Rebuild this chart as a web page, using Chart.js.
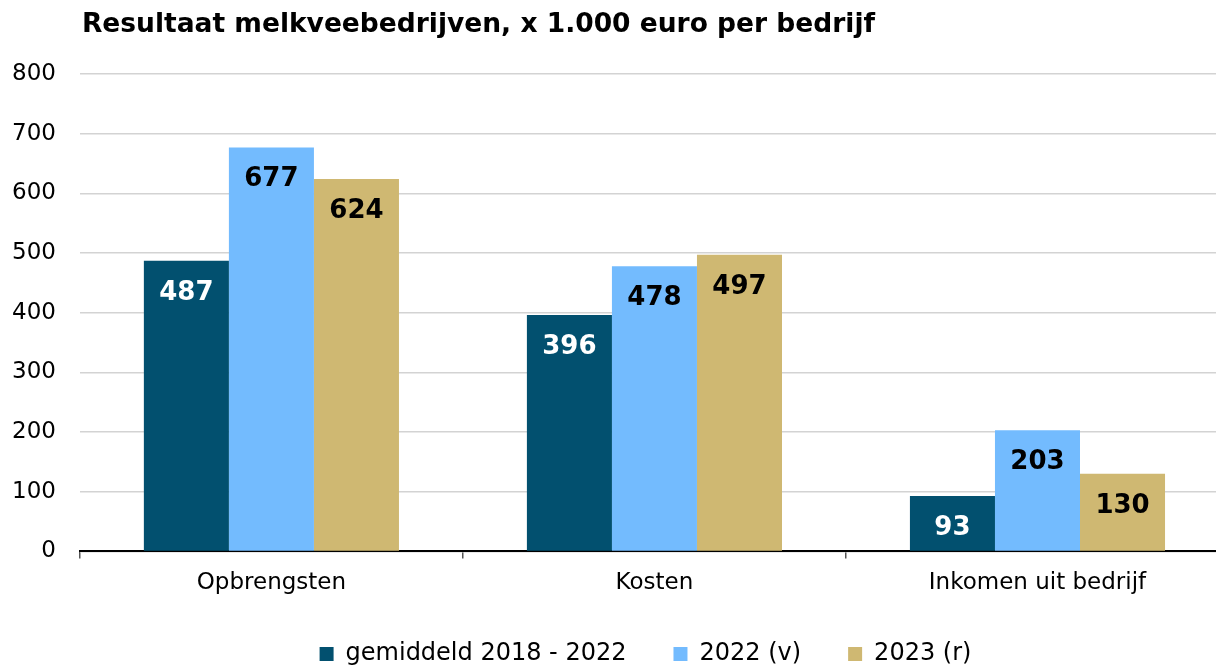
<!DOCTYPE html>
<html>
<head>
<meta charset="utf-8">
<script src="https://cdn.jsdelivr.net/npm/chart.js@4"></script>
<style>
  html, body { margin: 0; padding: 0; background: #fff; overflow: hidden; }
  #wrap { width: 1229px; height: 689px; }
</style>
</head>
<body>
<div id="wrap"><canvas id="chart"></canvas></div>
<script>
// ---- data ----
const categories = ['Opbrengsten', 'Kosten', 'Inkomen uit bedrijf'];
const seriesNames = ['gemiddeld 2018 - 2022', '2022 (v)', '2023 (r)'];
const avg2018_2022 = [487, 396, 93];
const v2022 = [677, 478, 203];
const r2023 = [624, 497, 130];
const yTicks = [0, 100, 200, 300, 400, 500, 600, 700, 800];
const chartTitle = 'Resultaat melkveebedrijven, x 1.000 euro per bedrijf';

const COLORS = ['#02506f', '#73bbfe', '#cfb872'];
const LABEL_COLORS = ['#ffffff', '#000000', '#000000'];
const FONT = "'DejaVu Sans', Verdana, sans-serif";

// title drawn at the left edge of the plot
const titlePlugin = {
    id: 'leftTitle',
    afterDraw(chart) {
        const ctx = chart.ctx;
        ctx.save();
        ctx.font = `bold 26.5px ${FONT}`;
        ctx.fillStyle = '#000';
        ctx.textAlign = 'left';
        ctx.textBaseline = 'alphabetic';
        ctx.fillText(chartTitle, chart.chartArea.left + 2, 32);
        ctx.restore();
    }
};

// nudge the legend a bit (it sits closer to the axis and more to the right)
const legendShift = {
    id: 'legendShift',
    afterLayout(chart) {
        const lg = chart.legend;
        lg.left += 37; lg.right += 37;
        lg.top -= 13; lg.bottom -= 13;
    }
};

// value labels inside the top of each bar
const valueLabels = {
    id: 'valueLabels',
    afterDatasetsDraw(chart) {
        const ctx = chart.ctx;
        ctx.save();
        ctx.font = `bold 26px ${FONT}`;
        ctx.textAlign = 'center';
        ctx.textBaseline = 'alphabetic';
        chart.data.datasets.forEach((ds, i) => {
            const meta = chart.getDatasetMeta(i);
            meta.data.forEach((bar, j) => {
                ctx.fillStyle = LABEL_COLORS[i];
                ctx.fillText(ds.data[j], bar.x, bar.y + 39);
            });
        });
        ctx.restore();
    }
};

const datasets = [avg2018_2022, v2022, r2023].map((d, i) => ({
    label: seriesNames[i],
    data: d,
    backgroundColor: COLORS[i],
    borderWidth: 0,
    barPercentage: 1,
    categoryPercentage: 0.666
}));

const ctx = document.getElementById('chart').getContext('2d');
const chart = new Chart(ctx, {
    type: 'bar',
    data: { labels: categories, datasets: datasets },
    options: {
        responsive: true,
        maintainAspectRatio: false,
        animation: false,
        layout: { padding: { top: 74, left: -12, right: 0, bottom: 0 } },
        plugins: {
            title: { display: false },
            tooltip: { enabled: false },
            legend: {
                position: 'bottom',
                labels: {
                    boxWidth: 14,
                    boxHeight: 14,
                    padding: 47,
                    color: '#000',
                    font: { family: FONT, size: 24 }
                }
            }
        },
        scales: {
            x: {
                offset: true,
                grid: {
                    offset: true,
                    drawOnChartArea: false,
                    drawTicks: true,
                    tickLength: 7,
                    tickColor: '#555',
                    lineWidth: 1.5
                },
                border: { display: true, color: '#000', width: 2 },
                ticks: {
                    color: '#000',
                    padding: 15,
                    font: { family: FONT, size: 23, lineHeight: 0.85 }
                }
            },
            y: {
                min: 0,
                max: 800,
                afterBuildTicks(scale) {
                    scale.ticks = yTicks.map(v => ({ value: v }));
                },
                grid: { color: '#d3d3d3', lineWidth: 1.5, drawTicks: false },
                border: { display: false },
                ticks: {
                    color: '#000',
                    padding: 24,
                    font: { family: FONT, size: 23 }
                }
            }
        }
    },
    plugins: [titlePlugin, legendShift, valueLabels]
});
</script>
</body>
</html>
